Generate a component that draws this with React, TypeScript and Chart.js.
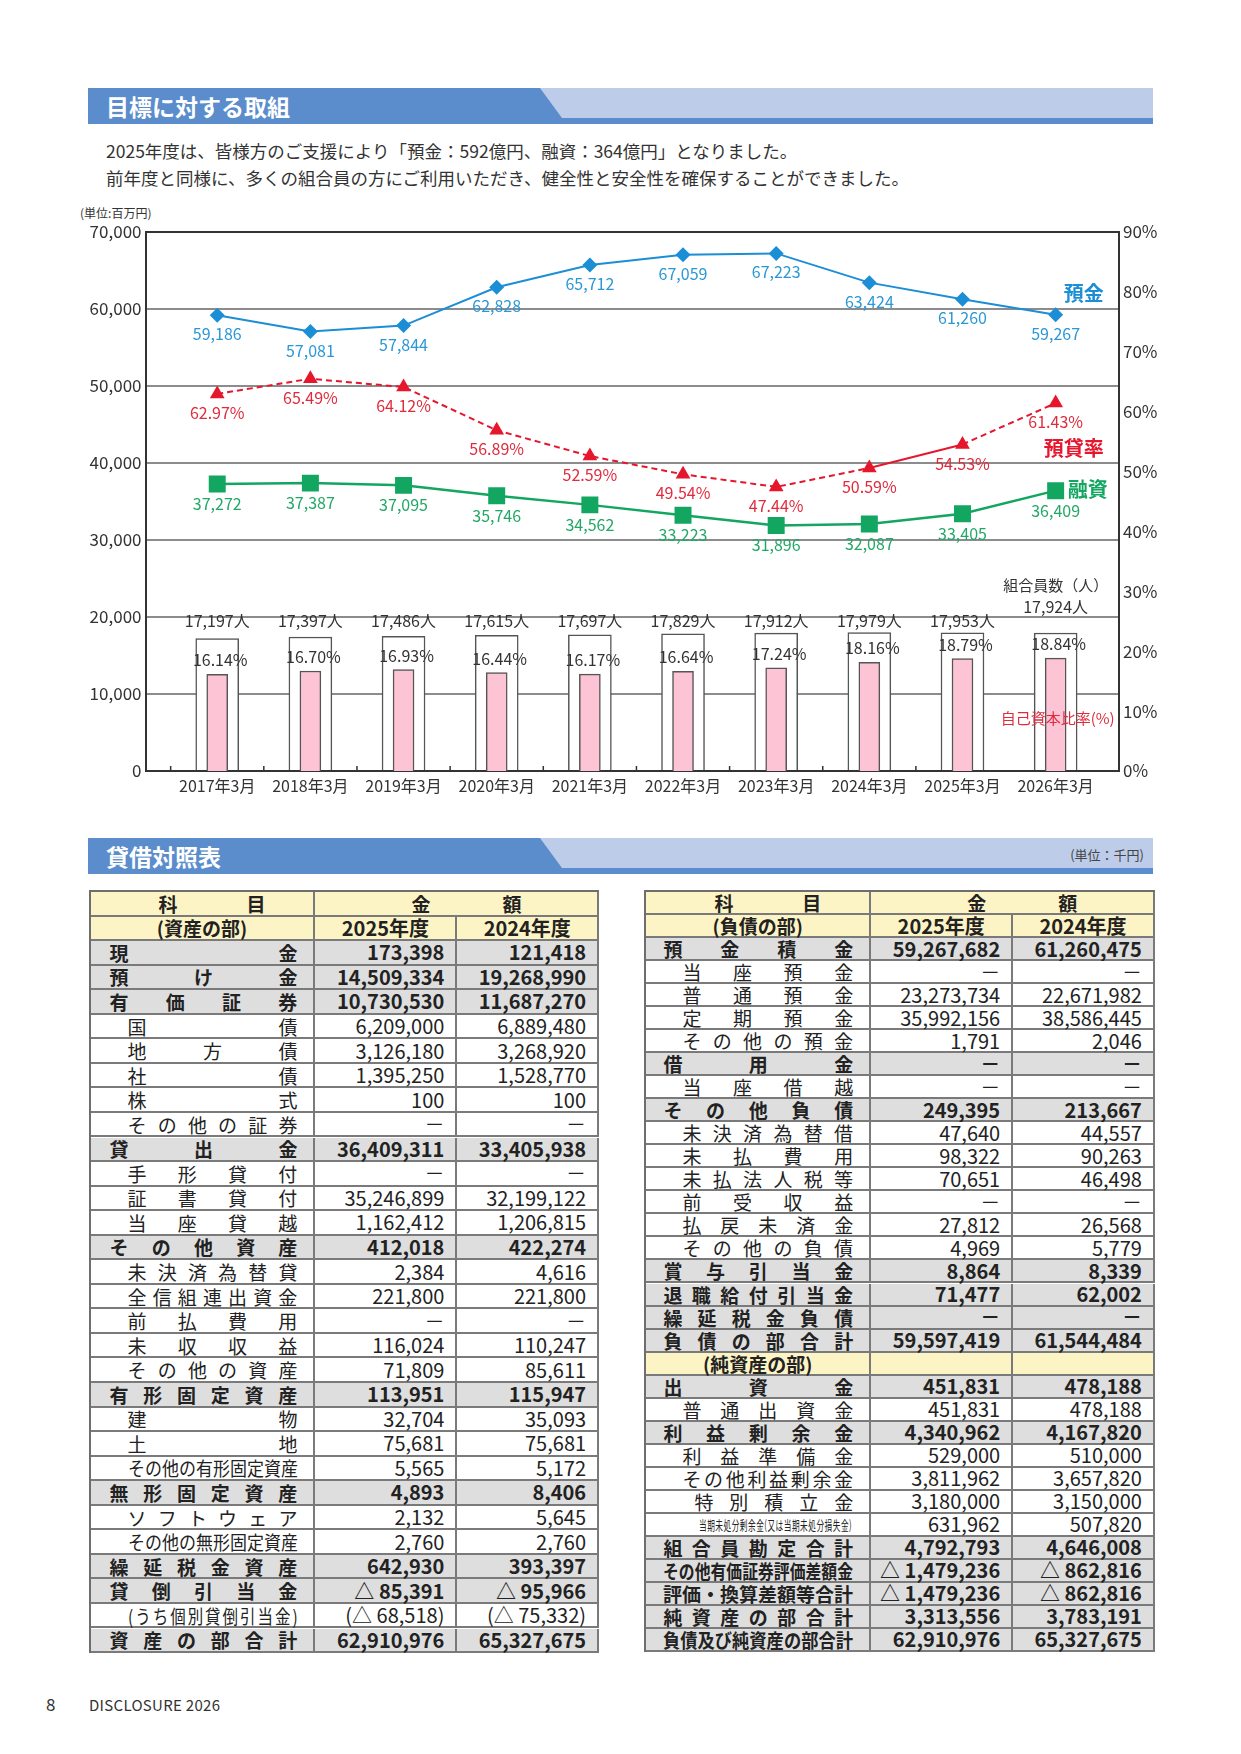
import React, { useEffect, useRef } from 'react';
import { Chart, registerables } from 'chart.js';

Chart.register(...registerables);

// ---------- chart data ----------
const years = ['2017年3月', '2018年3月', '2019年3月', '2020年3月', '2021年3月', '2022年3月', '2023年3月', '2024年3月', '2025年3月', '2026年3月'];
const deposits = [59186, 57081, 57844, 62828, 65712, 67059, 67223, 63424, 61260, 59267];
const loanRatio = [62.97, 65.49, 64.12, 56.89, 52.59, 49.54, 47.44, 50.59, 54.53, 61.43];
const loans = [37272, 37387, 37095, 35746, 34562, 33223, 31896, 32087, 33405, 36409];
const members = [17197, 17397, 17486, 17615, 17697, 17829, 17912, 17979, 17953, 17924];
const capitalRatio = [16.14, 16.7, 16.93, 16.44, 16.17, 16.64, 17.24, 18.16, 18.79, 18.84];
const leftTicks = [0, 10000, 20000, 30000, 40000, 50000, 60000, 70000];
const rightTicks = [0, 10, 20, 30, 40, 50, 60, 70, 80, 90];

// ---------- table data ----------
type Row = [string, string, string, string];
const assetRows: Row[] = [
  ['b', '現金', '173,398', '121,418'],
  ['b', '預け金', '14,509,334', '19,268,990'],
  ['b', '有価証券', '10,730,530', '11,687,270'],
  ['n', '国債', '6,209,000', '6,889,480'],
  ['n', '地方債', '3,126,180', '3,268,920'],
  ['n', '社債', '1,395,250', '1,528,770'],
  ['n', '株式', '100', '100'],
  ['n', 'その他の証券', '－', '－'],
  ['b', '貸出金', '36,409,311', '33,405,938'],
  ['n', '手形貸付', '－', '－'],
  ['n', '証書貸付', '35,246,899', '32,199,122'],
  ['n', '当座貸越', '1,162,412', '1,206,815'],
  ['b', 'その他資産', '412,018', '422,274'],
  ['n', '未決済為替貸', '2,384', '4,616'],
  ['n', '全信組連出資金', '221,800', '221,800'],
  ['n', '前払費用', '－', '－'],
  ['n', '未収収益', '116,024', '110,247'],
  ['n', 'その他の資産', '71,809', '85,611'],
  ['b', '有形固定資産', '113,951', '115,947'],
  ['n', '建物', '32,704', '35,093'],
  ['n', '土地', '75,681', '75,681'],
  ['n', 'その他の有形固定資産', '5,565', '5,172'],
  ['b', '無形固定資産', '4,893', '8,406'],
  ['n', 'ソフトウェア', '2,132', '5,645'],
  ['n', 'その他の無形固定資産', '2,760', '2,760'],
  ['b', '繰延税金資産', '642,930', '393,397'],
  ['b', '貸倒引当金', '△ 85,391', '△ 95,966'],
  ['n', '(うち個別貸倒引当金)', '(△ 68,518)', '(△ 75,332)'],
  ['b', '資産の部合計', '62,910,976', '65,327,675'],
];
const liabilityRows: Row[] = [
  ['b', '預金積金', '59,267,682', '61,260,475'],
  ['n', '当座預金', '－', '－'],
  ['n', '普通預金', '23,273,734', '22,671,982'],
  ['n', '定期預金', '35,992,156', '38,586,445'],
  ['n', 'その他の預金', '1,791', '2,046'],
  ['b', '借用金', '－', '－'],
  ['n', '当座借越', '－', '－'],
  ['b', 'その他負債', '249,395', '213,667'],
  ['n', '未決済為替借', '47,640', '44,557'],
  ['n', '未払費用', '98,322', '90,263'],
  ['n', '未払法人税等', '70,651', '46,498'],
  ['n', '前受収益', '－', '－'],
  ['n', '払戻未済金', '27,812', '26,568'],
  ['n', 'その他の負債', '4,969', '5,779'],
  ['b', '賞与引当金', '8,864', '8,339'],
  ['b', '退職給付引当金', '71,477', '62,002'],
  ['b', '繰延税金負債', '－', '－'],
  ['b', '負債の部合計', '59,597,419', '61,544,484'],
  ['h', '(純資産の部)', '', ''],
  ['b', '出資金', '451,831', '478,188'],
  ['n', '普通出資金', '451,831', '478,188'],
  ['b', '利益剰余金', '4,340,962', '4,167,820'],
  ['n', '利益準備金', '529,000', '510,000'],
  ['n', 'その他利益剰余金', '3,811,962', '3,657,820'],
  ['n2', '特別積立金', '3,180,000', '3,150,000'],
  ['s', '当期未処分剰余金(又は当期未処分損失金)', '631,962', '507,820'],
  ['b', '組合員勘定合計', '4,792,793', '4,646,008'],
  ['b', 'その他有価証券評価差額金', '△ 1,479,236', '△ 862,816'],
  ['b', '評価・換算差額等合計', '△ 1,479,236', '△ 862,816'],
  ['b', '純資産の部合計', '3,313,556', '3,783,191'],
  ['b', '負債及び純資産の部合計', '62,910,976', '65,327,675'],
];

const FONT = '"Noto Sans CJK JP", "Noto Sans", sans-serif';
const BLUE = '#1b8ed6';
const BLUE_TXT = '#2a97d6';
const RED = '#e6162d';
const RED_TXT = '#e02b3c';
const GREEN = '#12a660';
const GREEN_TXT = '#22a866';
const PINK = '#fcc4d4';
const TXT = '#333333';

const fmt = (v: number) => v.toLocaleString('en-US');

const labelPlugin = {
  id: 'valueLabels',
  afterDatasetsDraw(chart: any) {
    const { ctx, chartArea, scales } = chart;
    const m0 = chart.getDatasetMeta(0).data;
    const m1 = chart.getDatasetMeta(1).data;
    const m2 = chart.getDatasetMeta(2).data;
    const m3 = chart.getDatasetMeta(3).data;
    const m4 = chart.getDatasetMeta(4).data;
    ctx.save();
    ctx.textAlign = 'center';
    ctx.textBaseline = 'middle';
    ctx.font = `16px ${FONT}`;
    ctx.fillStyle = BLUE_TXT;
    m0.forEach((p: any, i: number) => ctx.fillText(fmt(deposits[i]), p.x, p.y + 19));
    ctx.fillStyle = RED_TXT;
    m1.forEach((p: any, i: number) => ctx.fillText(loanRatio[i].toFixed(2) + '%', p.x, p.y + 19));
    ctx.fillStyle = GREEN_TXT;
    m2.forEach((p: any, i: number) => ctx.fillText(fmt(loans[i]), p.x, p.y + 20));
    ctx.fillStyle = TXT;
    const y20 = scales.y.getPixelForValue(20000);
    m3.forEach((b: any, i: number) => {
      if (i < m3.length - 1) ctx.fillText(fmt(members[i]) + '人', b.x, y20 + 4);
      else {
        ctx.fillText(fmt(members[i]) + '人', b.x, y20 - 10);
        ctx.font = `15px ${FONT}`;
        ctx.fillText('組合員数（人）', b.x, y20 - 32);
        ctx.font = `16px ${FONT}`;
      }
    });
    m4.forEach((b: any, i: number) => ctx.fillText(capitalRatio[i].toFixed(2) + '%', b.x + 3, b.y - 14));

    // series captions
    const lastD = m0[m0.length - 1];
    const lastR = m1[m1.length - 1];
    const lastL = m2[m2.length - 1];
    const lastB = m4[m4.length - 1];
    ctx.font = `bold 20px ${FONT}`;
    ctx.fillStyle = BLUE;
    ctx.fillText('預金', lastD.x + 28, lastD.y - 21);
    ctx.fillStyle = RED;
    ctx.fillText('預貸率', lastR.x + 18, lastR.y + 45);
    ctx.fillStyle = GREEN;
    ctx.textAlign = 'left';
    ctx.fillText('融資', lastL.x + 12, lastL.y - 1);
    ctx.textAlign = 'center';
    ctx.font = `15px ${FONT}`;
    ctx.fillStyle = RED_TXT;
    ctx.fillText('自己資本比率(%)', lastB.x + 2, chartArea.bottom - 53);

    // small boundary ticks on the x axis
    ctx.strokeStyle = '#333';
    ctx.lineWidth = 1.5;
    for (let i = 0; i < years.length - 1; i++) {
      const px = scales.x.getPixelForValue(i - 0.5);
      ctx.beginPath();
      ctx.moveTo(px, chartArea.bottom);
      ctx.lineTo(px, chartArea.bottom - 5);
      ctx.stroke();
    }
    ctx.restore();
  },
};

function ComboChart() {
  const ref = useRef<HTMLCanvasElement | null>(null);
  useEffect(() => {
    if (!ref.current) return;
    const chart = new Chart(ref.current, {
      type: 'bar',
      data: {
        datasets: [
          {
            type: 'line', label: '預金', yAxisID: 'y',
            data: deposits.map((v, i) => ({ x: i, y: v })),
            borderColor: BLUE, backgroundColor: BLUE, borderWidth: 2,
            pointStyle: 'rectRot', pointRadius: 7.5, pointBorderWidth: 0, tension: 0, order: 1,
          } as any,
          {
            type: 'line', label: '預貸率', yAxisID: 'y2',
            data: loanRatio.map((v, i) => ({ x: i, y: v })),
            borderColor: RED, backgroundColor: RED, borderWidth: 2, borderDash: [6, 4],
            segment: { borderDash: (c: any) => (c.p0DataIndex === 7 ? [] : [6, 4]) },
            pointStyle: 'triangle', pointRadius: 8.5, pointBorderWidth: 0, tension: 0, order: 2,
          } as any,
          {
            type: 'line', label: '融資', yAxisID: 'y',
            data: loans.map((v, i) => ({ x: i, y: v })),
            borderColor: GREEN, backgroundColor: GREEN, borderWidth: 2.5,
            pointStyle: 'rect', pointRadius: 12, pointBorderWidth: 0, tension: 0, order: 3,
          } as any,
          {
            type: 'bar', label: '組合員数', yAxisID: 'y',
            data: members.map((v, i) => ({ x: i, y: v })),
            backgroundColor: '#ffffff', borderColor: '#555', borderWidth: 1.5,
            barThickness: 43, grouped: false, order: 10,
          } as any,
          {
            type: 'bar', label: '自己資本比率', yAxisID: 'y2',
            data: capitalRatio.map((v, i) => ({ x: i, y: v })),
            backgroundColor: PINK, borderColor: '#555', borderWidth: 1.5,
            barThickness: 21, grouped: false, order: 5,
          } as any,
        ],
      },
      options: {
        animation: false,
        responsive: false,
        devicePixelRatio: 1,
        layout: { padding: { top: 32, left: 0, right: 0, bottom: 0 } },
        plugins: { legend: { display: false }, tooltip: { enabled: false } },
        scales: {
          x: {
            type: 'linear', min: -0.77, max: 9.68, offset: false,
            grid: { display: false, drawTicks: false },
            border: { display: true, color: '#333', width: 2 },
            afterBuildTicks: (s: any) => { s.ticks = years.map((_, i) => ({ value: i })); },
            ticks: {
              autoSkip: false, maxRotation: 0, padding: 5, color: TXT,
              font: { family: FONT, size: 16 },
              callback: (v: any) => years[v as number] ?? '',
            },
            afterFit: (s: any) => { s.height = 49; },
          },
          y: {
            position: 'left', min: 0, max: 70000,
            afterBuildTicks: (s: any) => { s.ticks = leftTicks.map((v) => ({ value: v })); },
            grid: {
              drawTicks: false, lineWidth: 2,
              color: (c: any) => (c.tick && c.tick.value === 70000 ? '#333' : '#8c8c8c'),
            },
            border: { display: true, color: '#333', width: 2 },
            ticks: { padding: 4, color: TXT, font: { family: FONT, size: 17 }, callback: (v: any) => fmt(v as number) },
            afterFit: (s: any) => { s.width = 145.5; },
          },
          y2: {
            position: 'right', min: 0, max: 90,
            afterBuildTicks: (s: any) => { s.ticks = rightTicks.map((v) => ({ value: v })); },
            grid: { display: false, drawTicks: false },
            border: { display: true, color: '#333', width: 2 },
            ticks: { padding: 4, color: TXT, font: { family: FONT, size: 17 }, callback: (v: any) => v + '%' },
            afterFit: (s: any) => { s.width = 122; },
          },
        },
      } as any,
      plugins: [labelPlugin],
    });
    return () => chart.destroy();
  }, []);
  return <canvas ref={ref} width={1241} height={620} style={{ position: 'absolute', left: 0, top: 200, width: 1241, height: 620 }} />;
}

function SectionHeader({ top, title, unit }: { top: number; title: string; unit?: string }) {
  const W = 1065;
  const H = 36;
  const stripe = 6;
  return (
    <div style={{ position: 'absolute', left: 88, top, width: W, height: H }}>
      <div style={{ position: 'absolute', left: 0, top: 0, width: W, height: H, background: '#bdcce9' }} />
      <div style={{ position: 'absolute', left: 0, top: 0, width: W, height: H - stripe, background: '#5b8dcc', clipPath: 'polygon(0 0, 452px 0, 474px 100%, 0 100%)' }} />
      <div style={{ position: 'absolute', left: 0, top: H - stripe, width: W, height: stripe, background: '#5b8dcc' }} />
      <div style={{ position: 'absolute', left: 18, top: 0, height: H, display: 'flex', alignItems: 'center', color: '#fff', fontWeight: 700, fontSize: 23, lineHeight: 1 }}>{title}</div>
      {unit ? (
        <div style={{ position: 'absolute', right: 9, top: 0, height: H - 4, display: 'flex', alignItems: 'center', color: '#444', fontSize: 13, lineHeight: 1 }}>{unit}</div>
      ) : null}
    </div>
  );
}

function Spread({ text, fs, weight, padL, padR, cellW }: { text: string; fs: number; weight: number; padL: number; padR: number; cellW: number }) {
  const chars = Array.from(text);
  const avail = cellW - padL - padR;
  const natural = chars.length * fs;
  const scale = Math.min(1, avail / natural);
  const w = avail / scale;
  return (
    <div style={{ position: 'absolute', left: padL, top: 0, height: '100%', display: 'flex', alignItems: 'center' }}>
      <div style={{ display: 'flex', justifyContent: chars.length === 1 ? 'flex-start' : 'space-between', width: w, transform: `scaleX(${scale})`, transformOrigin: 'left center', fontSize: fs, fontWeight: weight, lineHeight: 1, whiteSpace: 'nowrap' }}>
        {chars.map((c, i) => (
          <span key={i}>{c}</span>
        ))}
      </div>
    </div>
  );
}

const BORDER = '2px solid #7a7a7a';
const GRAY = '#dedede';
const YELLOW = '#fdf4c5';

function BalanceTable({ left, rows, rowH, partLabel, padB, padN, padR }: { left: number; rows: Row[]; rowH: number; partLabel: string; padB: number; padN: number; padR: number }) {
  const cw = [224.8, 142, 141.7];
  const W = cw[0] + cw[1] + cw[2];
  const total = rowH * (rows.length + 2);
  const cell = (w: number, bg: string, extra: any = {}) => ({
    position: 'relative' as const, boxSizing: 'border-box' as const, width: w, height: rowH,
    borderRight: BORDER, borderBottom: BORDER, background: bg, ...extra,
  });
  const numStyle = (bold: boolean) => ({
    position: 'absolute' as const, right: 11, top: 0, height: '100%', display: 'flex', alignItems: 'center',
    fontSize: 20, fontWeight: bold ? 700 : 400, lineHeight: 1, whiteSpace: 'nowrap' as const,
  });
  return (
    <div style={{ position: 'absolute', left, top: 892, width: W, height: total, color: '#222' }}>
      <div style={{ position: 'absolute', left: 0, top: 0, width: W, height: rowH, display: 'flex' }}>
        <div style={cell(cw[0], YELLOW)}>
          <Spread text="科目" fs={19} weight={700} padL={68} padR={50} cellW={cw[0]} />
        </div>
        <div style={cell(cw[1] + cw[2], YELLOW)}>
          <div style={{ position: 'absolute', left: 96, top: 0, height: '100%', display: 'flex', alignItems: 'center', gap: 72, fontSize: 19, fontWeight: 700, lineHeight: 1 }}>
            <span>金</span>
            <span>額</span>
          </div>
        </div>
      </div>
      <div style={{ position: 'absolute', left: 0, top: rowH, width: W, height: rowH, display: 'flex' }}>
        <div style={cell(cw[0], YELLOW, { display: 'flex', alignItems: 'center', justifyContent: 'center', fontSize: 19, fontWeight: 700 })}>{partLabel}</div>
        <div style={cell(cw[1], YELLOW, { display: 'flex', alignItems: 'center', justifyContent: 'center', fontSize: 20, fontWeight: 700 })}>2025年度</div>
        <div style={cell(cw[2], YELLOW, { display: 'flex', alignItems: 'center', justifyContent: 'center', fontSize: 20, fontWeight: 700 })}>2024年度</div>
      </div>
      {rows.map((r, i) => {
        const [kind, label, a, b] = r;
        const bold = kind === 'b';
        const bg = kind === 'b' ? GRAY : kind === 'h' ? YELLOW : '#ffffff';
        let labelEl;
        if (kind === 'h') {
          labelEl = <div style={{ position: 'absolute', inset: 0, display: 'flex', alignItems: 'center', justifyContent: 'center', fontSize: 19, fontWeight: 700 }}>{label}</div>;
        } else if (kind === 's') {
          labelEl = <Spread text={label} fs={13} weight={400} padL={53} padR={padR + 1} cellW={cw[0]} />;
        } else {
          const pl = kind === 'b' ? padB : kind === 'n2' ? padN + 12 : padN;
          labelEl = <Spread text={label} fs={19} weight={bold ? 700 : 400} padL={pl} padR={padR} cellW={cw[0]} />;
        }
        return (
          <div key={i} style={{ position: 'absolute', left: 0, top: rowH * (i + 2), width: W, height: rowH, display: 'flex' }}>
            <div style={cell(cw[0], bg)}>{labelEl}</div>
            <div style={cell(cw[1], bg)}><div style={numStyle(bold)}>{a}</div></div>
            <div style={cell(cw[2], bg)}><div style={numStyle(bold)}>{b}</div></div>
          </div>
        );
      })}
      <div style={{ position: 'absolute', left: -2, top: -2, width: W + 2, height: 2, background: '#6e6e6e' }} />
      <div style={{ position: 'absolute', left: -2, top: -2, width: 2, height: total + 2, background: '#6e6e6e' }} />
    </div>
  );
}

export default function App() {
  return (
    <div style={{ position: 'absolute', left: 0, top: 0, width: 1241, height: 1754, background: '#fff', fontFamily: FONT, color: TXT, overflow: 'hidden' }}>
      <SectionHeader top={88} title="目標に対する取組" />
      <div style={{ position: 'absolute', left: 106, top: 137, fontSize: 17.5, lineHeight: '27px', color: TXT, whiteSpace: 'nowrap' }}>
        <div>2025年度は、皆様方のご支援により「預金：592億円、融資：364億円」となりました。</div>
        <div>前年度と同様に、多くの組合員の方にご利用いただき、健全性と安全性を確保することができました。</div>
      </div>
      <div style={{ position: 'absolute', left: 80, top: 205, fontSize: 12, lineHeight: '16px', color: TXT }}>(単位:百万円)</div>
      <ComboChart />
      <SectionHeader top={838} title="貸借対照表" unit="(単位：千円)" />
      <BalanceTable left={90.6} rows={assetRows} rowH={24.55} partLabel="(資産の部)" padB={19} padN={37} padR={18} />
      <BalanceTable left={646.4} rows={liabilityRows} rowH={23.03} partLabel="(負債の部)" padB={17} padN={36} padR={18} />
      <div style={{ position: 'absolute', left: 46, top: 1693, fontSize: 17, lineHeight: '22px', color: TXT }}>8</div>
      <div style={{ position: 'absolute', left: 89, top: 1695, fontSize: 15, lineHeight: '20px', color: TXT, letterSpacing: 0.3 }}>DISCLOSURE 2026</div>
    </div>
  );
}
